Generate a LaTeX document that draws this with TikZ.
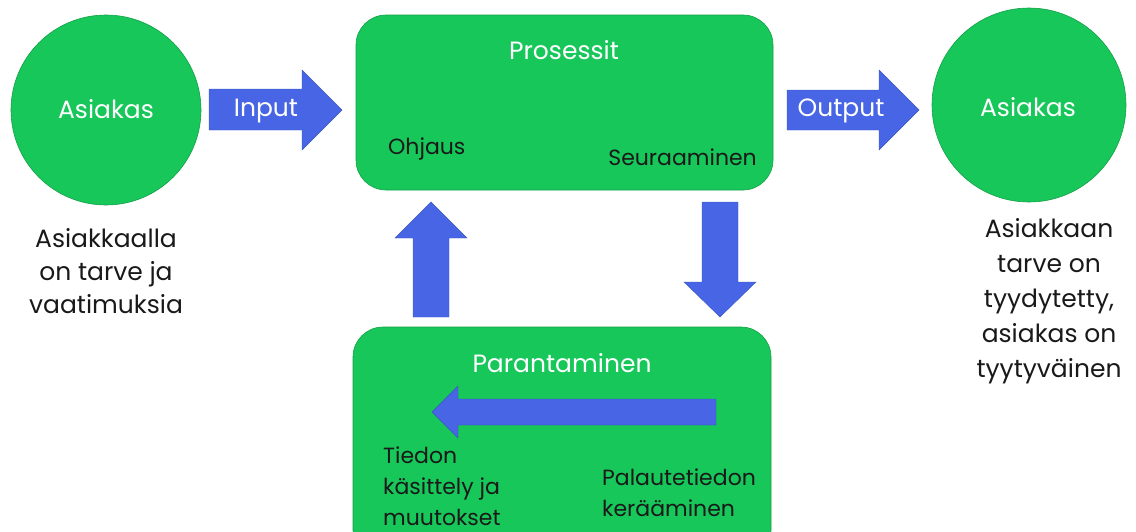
\documentclass[tikz,border=0pt]{standalone}
\usepackage{fontspec}
\setmainfont{Poppins}
\begin{document}
\definecolor{procgreen}{RGB}{23,199,90}
\definecolor{edgegreen}{RGB}{20,160,72}
\definecolor{flowblue}{RGB}{71,101,228}
\definecolor{inktext}{RGB}{25,25,25}
\begin{tikzpicture}[x=1pt,y=-1pt,
  client/.style={circle,fill=procgreen,draw=edgegreen,line width=0.6pt,minimum size=#1pt,inner sep=0pt},
  stagebox/.style={rounded corners=30pt,fill=procgreen,draw=edgegreen,line width=0.6pt},
  flow/.style={fill=flowblue,draw=flowblue!85!black,line width=0.4pt},
  whitelbl/.style={text=white,font=\fontsize{25}{30}\selectfont,inner sep=0pt},
  darklbl/.style={text=inktext,font=\fontsize{22}{26}\selectfont,inner sep=0pt},
  notelbl/.style={text=inktext,align=center,inner sep=0pt},
]
\useasboundingbox (0,0) rectangle (1136,531);
\begin{scope}
\clip (0,0) rectangle (1136,531);

% customers
\node[client=190] (cin) at (106,110) {};
\node[whitelbl] (cinlbl) at (106,109) {Asiakas};
\node[client=194] (cout) at (1029,105) {};
\node[whitelbl] (coutlbl) at (1028,107) {Asiakas};

% process and improvement boxes
\draw[stagebox] (356,15) rectangle (773,190);
\node[whitelbl] (proctitle) at (564,50) {Prosessit};
\node[darklbl,anchor=west] (ohjaus) at (388,149) {Ohjaus};
\node[darklbl,anchor=east] (seur) at (757,157) {Seuraaminen};

\draw[stagebox] (353,327) rectangle (771,560);
\node[whitelbl] (imptitle) at (562,363) {Parantaminen};
\node[darklbl,anchor=west,align=left,font=\fontsize{22}{31}\selectfont] (tiedon) at (383,486)
  {Tiedon\\käsittely ja\\muutokset};
\node[darklbl,anchor=west,align=left,font=\fontsize{22}{31}\selectfont] (palaute) at (602,493)
  {Palautetiedon\\kerääminen};

% block arrows
\draw[flow] (209,89) -- (302,89) -- (302,70) -- (342,110) -- (302,150) -- (302,130) -- (209,130) -- cycle;
\node[whitelbl] (inputlbl) at (266,111) {Input};
\draw[flow] (787,90) -- (879,90) -- (879,70) -- (919,110) -- (879,150) -- (879,130) -- (787,130) -- cycle;
\node[whitelbl] (outputlbl) at (841,111) {Output};
\draw[flow] (413,317) -- (413,238) -- (395,238) -- (431,202) -- (467,238) -- (449,238) -- (449,317) -- cycle;
\draw[flow] (702,202) -- (738,202) -- (738,282) -- (756,282) -- (720,317) -- (684,282) -- (702,282) -- cycle;
\draw[flow] (716,399) -- (458,399) -- (458,386) -- (432,412) -- (458,438) -- (458,425) -- (716,425) -- cycle;

% notes under the customers
\node[notelbl,font=\fontsize{25}{33}\selectfont] (needs) at (106,271)
  {Asiakkaalla\\on tarve ja\\vaatimuksia};
\node[notelbl,font=\fontsize{25}{35}\selectfont] (satisfied) at (1049,301)
  {Asiakkaan\\tarve on\\tyydytetty,\\asiakas on\\tyytyväinen};
\end{scope}
\end{tikzpicture}
\end{document}
